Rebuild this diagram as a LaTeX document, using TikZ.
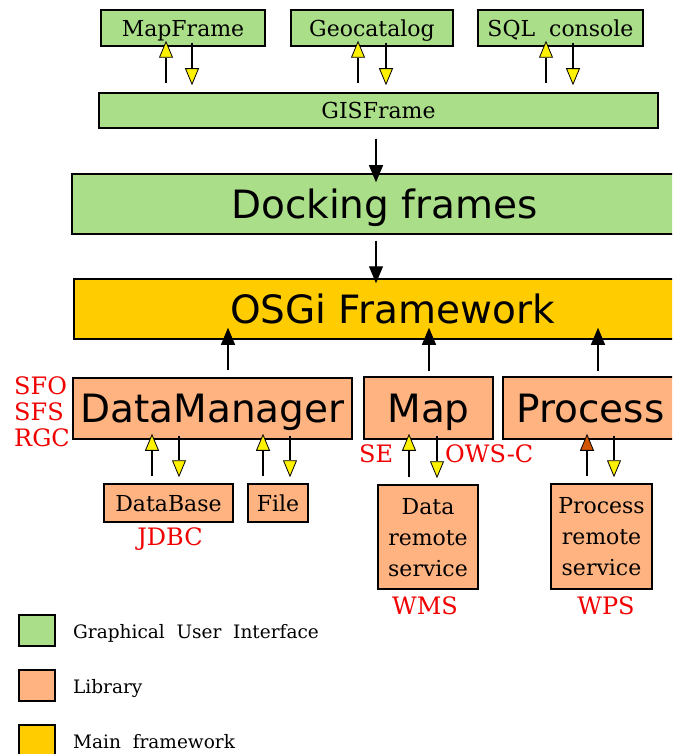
\documentclass[tikz,border=0pt]{standalone}
\usepackage{fontspec}
\setmainfont{DejaVu Serif}
\setsansfont{DejaVu Sans}
\usepackage{tikz}
\usetikzlibrary{arrows.meta,positioning,calc}
\definecolor{guigreen}{RGB}{170,222,136}
\definecolor{libpeach}{RGB}{255,179,128}
\definecolor{coregold}{RGB}{255,204,0}
\definecolor{tagred}{RGB}{240,0,0}
\definecolor{procbrown}{RGB}{212,85,0}
\tikzstyle{box}=[draw,line width=1.5pt,inner sep=0pt,text depth=0pt,font=\fontsize{22}{31}\selectfont]
\tikzstyle{gui}=[box,fill=guigreen]
\tikzstyle{lib}=[box,fill=libpeach]
\tikzstyle{core}=[box,fill=coregold]
\tikzstyle{big}=[font=\sffamily\fontsize{39}{44}\selectfont]
\tikzstyle{tag}=[text=tagred,inner sep=0pt,font=\fontsize{24}{26}\selectfont]
\tikzstyle{keytext}=[inner sep=0pt,font=\fontsize{18.5}{22}\selectfont]
\tikzstyle{flow}=[line width=1.1pt,-{Triangle[length=17pt,width=14pt]}]
\tikzstyle{request}=[line width=1.1pt,-{Triangle[length=17pt,width=14pt,fill=yellow,line width=0.8pt]}]
\tikzstyle{call}=[line width=1.1pt,-{Triangle[length=17pt,width=14pt,fill=procbrown,line width=0.8pt]}]

\begin{document}
\begin{tikzpicture}[x=1pt,y=-1pt]
\useasboundingbox (0,0) rectangle (672,754);
\clip (0,0) rectangle (672,754);

\node[gui,minimum width=164pt,minimum height=36pt] (mapframe) at (183,28) {MapFrame};
\node[gui,minimum width=162pt,minimum height=36pt] (geocatalog) at (372,28) {Geocatalog};
\node[gui,minimum width=165pt,minimum height=36pt] (sqlconsole) at (560.5,28) {SQL\ \ console};
\node[gui,minimum width=559pt,minimum height=35pt] (gisframe) at (378.5,110.5) {GISFrame};
\node[gui,big,minimum width=625pt,minimum height=60pt] (docking) at (384.5,204) {Docking frames};
\node[core,big,minimum width=637pt,minimum height=60pt] (osgi) at (392.5,309) {OSGi Framework};
\node[lib,big,minimum width=279pt,minimum height=61pt] (datamanager) at (212.5,408.5) {DataManager};
\node[lib,big,minimum width=129pt,minimum height=62pt] (map) at (428.5,408) {Map};
\node[lib,big,minimum width=175pt,minimum height=62pt] (process) at (590.5,408) {Process};
\node[lib,minimum width=129pt,minimum height=38pt] (database) at (168.5,503) {DataBase};
\node[lib,minimum width=60pt,minimum height=38pt] (file) at (278,503) {File};
\node[lib,align=center,minimum width=100pt,minimum height=104pt] (dataremote) at (428,537) {Data\\remote\\service};
\node[lib,align=center,minimum width=101pt,minimum height=105pt] (procremote) at (601.5,536.5) {Process\\remote\\service};

\draw[request,shorten <=9pt,shorten >=-6pt] ([xshift=-17pt]mapframe.south |- gisframe.north) -- ([xshift=-17pt]mapframe.south);
\draw[request,shorten <=-4pt,shorten >=7pt] ([xshift=9pt]mapframe.south) -- ([xshift=9pt]mapframe.south |- gisframe.north);
\draw[request,shorten <=9pt,shorten >=-6pt] ([xshift=-14pt]geocatalog.south |- gisframe.north) -- ([xshift=-14pt]geocatalog.south);
\draw[request,shorten <=-4pt,shorten >=7pt] ([xshift=14pt]geocatalog.south) -- ([xshift=14pt]geocatalog.south |- gisframe.north);
\draw[request,shorten <=9pt,shorten >=-6pt] ([xshift=-14.5pt]sqlconsole.south |- gisframe.north) -- ([xshift=-14.5pt]sqlconsole.south);
\draw[request,shorten <=-4pt,shorten >=7pt] ([xshift=12.5pt]sqlconsole.south) -- ([xshift=12.5pt]sqlconsole.south |- gisframe.north);

\draw[flow,shorten <=10pt,shorten >=-9pt] ([xshift=-2.5pt]gisframe.south) -- ([xshift=-2.5pt]gisframe.south |- docking.north);
\draw[flow,shorten <=6pt,shorten >=-5pt] ([xshift=-8.5pt]docking.south) -- ([xshift=-8.5pt]docking.south |- osgi.north);
\draw[flow,shorten <=7pt,shorten >=-12pt] ([xshift=15.5pt]datamanager.north) -- ([xshift=15.5pt]datamanager.north |- osgi.south);
\draw[flow,shorten <=5pt,shorten >=-12pt] ([xshift=0.5pt]map.north) -- ([xshift=0.5pt]map.north |- osgi.south);
\draw[flow,shorten <=5pt,shorten >=-12pt] ([xshift=7.5pt]process.north) -- ([xshift=7.5pt]process.north |- osgi.south);

\draw[request,shorten <=7pt,shorten >=-6pt] ([xshift=-16.5pt]database.north) -- ([xshift=-16.5pt]database.north |- datamanager.south);
\draw[request,shorten <=-4pt,shorten >=6pt] ([xshift=10.5pt]database.north |- datamanager.south) -- ([xshift=10.5pt]database.north);
\draw[request,shorten <=7pt,shorten >=-6pt] ([xshift=-15pt]file.north) -- ([xshift=-15pt]file.north |- datamanager.south);
\draw[request,shorten <=-4pt,shorten >=6pt] ([xshift=12pt]file.north |- datamanager.south) -- ([xshift=12pt]file.north);
\draw[request,shorten <=7pt,shorten >=-6pt] ([xshift=-19pt]dataremote.north) -- ([xshift=-19pt]dataremote.north |- map.south);
\draw[request,shorten <=-4pt,shorten >=6pt] ([xshift=9pt]dataremote.north |- map.south) -- ([xshift=9pt]dataremote.north);
\draw[call,shorten <=7pt,shorten >=-6pt] ([xshift=-14.5pt]procremote.north) -- ([xshift=-14.5pt]procremote.north |- process.south);
\draw[request,shorten <=-4pt,shorten >=6pt] ([xshift=12.5pt]procremote.north |- process.south) -- ([xshift=12.5pt]procremote.north);

\node[tag,anchor=north west,align=left] (dmtags) at (14,376) {SFO\\SFS\\RGC};
\node[tag,anchor=base west] (setag) at (359,462) {SE};
\node[tag,anchor=base west] (owstag) at (445,462) {OWS-C};
\node[tag,anchor=base] (jdbctag) at (170,545) {JDBC};
\node[tag,anchor=base] (wmstag) at (425,614) {WMS};
\node[tag,anchor=base] (wpstag) at (606,614) {WPS};

\node[gui,minimum width=36pt,minimum height=31pt] (keygui) at (37,630.5) {};
\node[lib,minimum width=36pt,minimum height=31pt] (keylib) at (37,685.5) {};
\node[core,minimum width=36pt,minimum height=31pt] (keycore) at (37,740.5) {};
\node[keytext,anchor=base west] (keyguitext) at (73,638) {Graphical\ \ User\ \ Interface};
\node[keytext,anchor=base west] (keylibtext) at (73,693) {Library};
\node[keytext,anchor=base west] (keycoretext) at (73,748) {Main\ \ framework};
\end{tikzpicture}
\end{document}
